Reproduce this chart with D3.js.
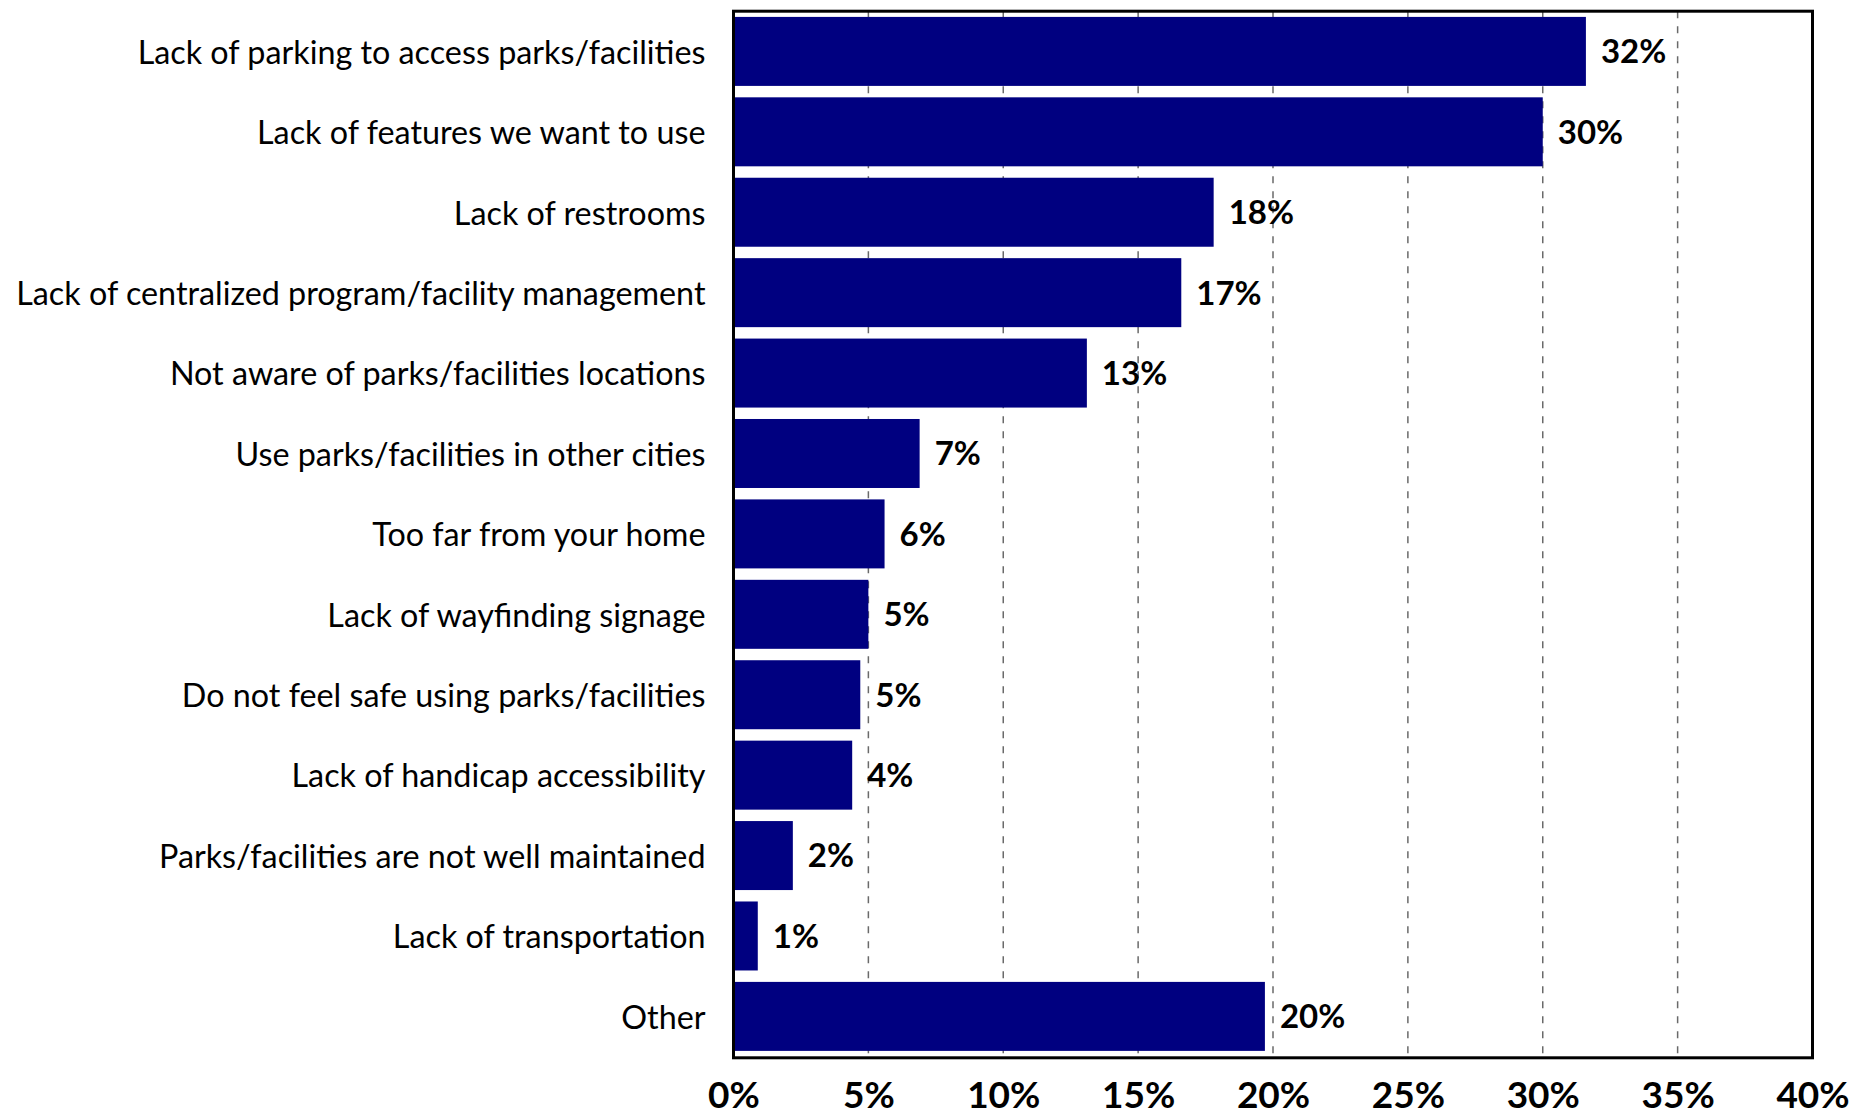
<!DOCTYPE html>
<html>
<head>
<meta charset="utf-8">
<script src="https://cdn.jsdelivr.net/npm/d3@7"></script>
<style>
  body { margin: 0; background: #fff; }
  svg { display: block; }
</style>
</head>
<body>
<svg id="chart" width="1871" height="1117"></svg>
<script>
// Reasons for not using parks/facilities (percent of respondents)
const categories = [
  "Lack of parking to access parks/facilities",
  "Lack of features we want to use",
  "Lack of restrooms",
  "Lack of centralized program/facility management",
  "Not aware of parks/facilities locations",
  "Use parks/facilities in other cities",
  "Too far from your home",
  "Lack of wayfinding signage",
  "Do not feel safe using parks/facilities",
  "Lack of handicap accessibility",
  "Parks/facilities are not well maintained",
  "Lack of transportation",
  "Other"
];
const values = [31.6, 30.0, 17.8, 16.6, 13.1, 6.9, 5.6, 5.0, 4.7, 4.4, 2.2, 0.9, 19.7];
const xTicks = [0, 5, 10, 15, 20, 25, 30, 35, 40];

const svg = d3.select("#chart");
const plot = { left: 733.5, right: 1812.5, top: 11.2, bottom: 1057.8 };
const font = "Lato, 'Open Sans', sans-serif";

const x = d3.scaleLinear().domain([0, 40]).range([plot.left, plot.right]);
const y = d3.scaleBand()
  .domain(categories)
  .range([plot.top, plot.bottom - 1.2])
  .paddingInner(0.142)
  .paddingOuter(0.071);

// dashed vertical gridlines
svg.append("g").selectAll("line")
  .data(xTicks.filter(t => t > 0 && t < 40))
  .join("line")
  .attr("x1", d => x(d)).attr("x2", d => x(d))
  .attr("y1", plot.top).attr("y2", plot.bottom)
  .attr("stroke", "#6a6a6a")
  .attr("stroke-width", 1.5)
  .attr("stroke-dasharray", "7,8");

// bars
svg.append("g").selectAll("rect")
  .data(values)
  .join("rect")
  .attr("x", x(0))
  .attr("y", (d, i) => y(categories[i]))
  .attr("width", d => x(d) - x(0))
  .attr("height", y.bandwidth())
  .attr("fill", "#000080");

// value labels
svg.append("g").selectAll("text")
  .data(values)
  .join("text")
  .attr("x", d => x(d) + 15)
  .attr("y", (d, i) => y(categories[i]) + y.bandwidth() / 2)
  .attr("dy", "0.36em")
  .attr("font-family", font)
  .attr("font-weight", "bold")
  .attr("font-size", 33)
  .attr("fill", "#000")
  .text(d => Math.round(d) + "%");

// plot frame
svg.append("rect")
  .attr("x", plot.left).attr("y", plot.top)
  .attr("width", plot.right - plot.left)
  .attr("height", plot.bottom - plot.top)
  .attr("fill", "none")
  .attr("stroke", "#000")
  .attr("stroke-width", 3);

// category axis
const yAxis = svg.append("g")
  .attr("transform", `translate(${plot.left},0)`)
  .call(d3.axisLeft(y).tickSize(0).tickPadding(28));
yAxis.select(".domain").remove();
yAxis.selectAll("text")
  .attr("font-family", font)
  .attr("font-size", 32.3)
  .attr("fill", "#000")
  .attr("dy", "0.38em");

// percentage axis
const xAxis = svg.append("g")
  .attr("transform", `translate(0,${plot.bottom})`)
  .call(d3.axisBottom(x).tickValues(xTicks).tickSize(0).tickFormat(d => d + "%"));
xAxis.select(".domain").remove();
xAxis.selectAll("text")
  .attr("font-family", font)
  .attr("font-weight", "bold")
  .attr("font-size", 37)
  .attr("fill", "#000")
  .attr("y", 50)
  .attr("dy", 0);
</script>
</body>
</html>
